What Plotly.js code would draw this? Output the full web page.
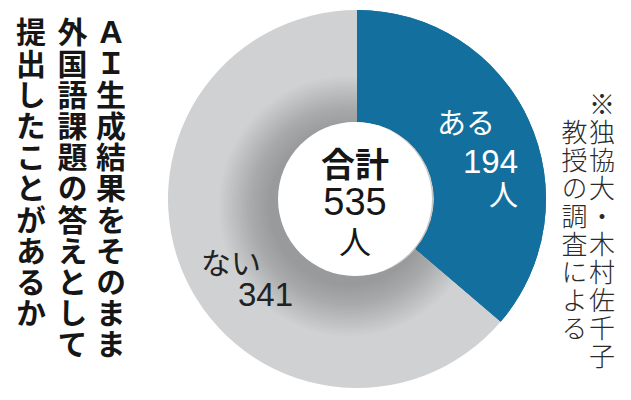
<!DOCTYPE html>
<html>
<head>
<meta charset="utf-8">
<script src="https://cdn.plot.ly/plotly-3.0.1.min.js"></script>
<style>
  html, body { margin: 0; padding: 0; background: #fff; }
  #chart { width: 631px; height: 400px; }
</style>
</head>
<body>
<div id="chart"></div>
<script>
// data
const labels = ['ある', 'ない'];
const counts = [194, 341];
const unit = '人';
const totalLabel = '合計';
const titleColumns = ['ＡＩ生成結果をそのまま', '外国語課題の答えとして', '提出したことがあるか'];
const noteColumns = ['※独協大・木村佐千子', '教授の調査による'];

const W = 631, H = 400;
const cx = 357, cy = 199, R = 189, HOLE = 77;
const sliceColors = ['#13709e', '#d0d1d3'];
const GOTHIC = 'Noto Sans CJK JP, sans-serif';
const DIGITS = 'Liberation Sans, Noto Sans CJK JP, sans-serif';

const total = counts.reduce((a, b) => a + b, 0);

function domainFor(x0, y0, r) {
    return {
        x: [(x0 - r) / W, (x0 + r) / W],
        y: [(H - y0 - r) / H, (H - y0 + r) / H]
    };
}

function pieTrace(vals, names, colors, x0, y0, r, hole) {
    return {
        type: 'pie',
        labels: names,
        values: vals,
        sort: false,
        direction: 'clockwise',
        rotation: 0,
        hole: hole,
        domain: domainFor(x0, y0, r),
        marker: { colors: colors, line: { width: 0 } },
        textinfo: 'none',
        hoverinfo: 'skip',
        showlegend: false
    };
}

const traces = [pieTrace(counts, labels, sliceColors, cx, cy, R, HOLE / R)];
// soft drop shadow of the centre disc, falling down-left onto the ring
for (let r = 80; r <= 132; r += 2.5) {
    traces.push(pieTrace([total], ['影'], ['rgba(30,30,35,0.011)'], cx - 8, cy + 7, r, 0));
}
// the blue slice sits above the shadow
traces.push(pieTrace(counts, labels, [sliceColors[0], 'rgba(0,0,0,0)'], cx, cy, R, HOLE / R));
// white centre
traces.push(pieTrace([total], [totalLabel], ['#ffffff'], cx - 2, cy, HOLE, 0));

function ann(text, x, y, size, color, family, extra) {
    return Object.assign({
        text: text,
        x: x / W, y: 1 - y / H,
        xref: 'paper', yref: 'paper',
        xanchor: 'center', yanchor: 'middle',
        showarrow: false,
        font: { size: size, color: color, family: family }
    }, extra || {});
}

const span = (txt, css) => '<span style="' + css + '">' + txt + '</span>';
const digitCss = size => "font-size:" + size + "px;font-family:'Liberation Sans'";

const annotations = [];
const vertical = []; // annotation index -> letter spacing

// vertical title, columns right to left (x, top of column)
const titleX = [111, 72, 31];
titleColumns.forEach((col, c) => {
    vertical.push({ idx: annotations.length, spacing: 1.2 });
    annotations.push(ann(col, titleX[c], 17, 30, '#161616', GOTHIC, { font: { size: 30, color: '#161616', family: GOTHIC, weight: 700 } }));
});

// vertical source note
const noteX = [602, 574];
const noteTop = [91, 119];
noteColumns.forEach((col, c) => {
    vertical.push({ idx: annotations.length, spacing: 2 });
    annotations.push(ann(col, noteX[c], noteTop[c], 26, '#2a2a2a', GOTHIC, { font: { size: 26, color: '#2a2a2a', family: GOTHIC, weight: 300 } }));
});

// slice labels
annotations.push(ann(labels[0], 466, 121, 29, '#ffffff', GOTHIC));
annotations.push(ann(span(counts[0], digitCss(33)) + '<br>' + span(unit, 'font-size:29px'),
    520, 178, 25.4, '#ffffff', GOTHIC, { xanchor: 'right', align: 'right' }));
annotations.push(ann(labels[1], 231, 261, 30, '#222222', GOTHIC));
annotations.push(ann(String(counts[1]), 265, 294, 33, '#222222', DIGITS));

// centre total
annotations.push(ann('<b>' + span(totalLabel, 'font-size:34px') + '</b><br>' +
    span(total, digitCss(38)) + '<br>' + span(unit, 'font-size:32px'),
    355, 201, 29.6, '#161616', GOTHIC));

const layout = {
    width: W,
    height: H,
    margin: { l: 0, r: 0, t: 0, b: 0 },
    paper_bgcolor: '#ffffff',
    plot_bgcolor: '#ffffff',
    showlegend: false,
    annotations: annotations
};

Plotly.newPlot('chart', traces, layout, { displayModeBar: false, staticPlot: true }).then(gd => {
    // turn the column annotations into upright vertical text, starting at their anchor
    vertical.forEach(v => {
        const g = gd.querySelector('.annotation[data-index="' + v.idx + '"]');
        if (!g) return;
        const rect = g.querySelector('rect.bg');
        const txt = g.querySelector('text.annotation-text');
        const x = +rect.getAttribute('x') + (+rect.getAttribute('width')) / 2;
        const y = +rect.getAttribute('y') + (+rect.getAttribute('height')) / 2;
        txt.textContent = layout.annotations[v.idx].text;
        txt.setAttribute('x', x);
        txt.setAttribute('y', y);
        txt.setAttribute('text-anchor', 'start');
        txt.style.textAnchor = 'start';
        txt.style.writingMode = 'vertical-rl';
        txt.style.letterSpacing = v.spacing + 'px';
        rect.setAttribute('width', 0);
        rect.setAttribute('height', 0);
    });
});
</script>
</body>
</html>
